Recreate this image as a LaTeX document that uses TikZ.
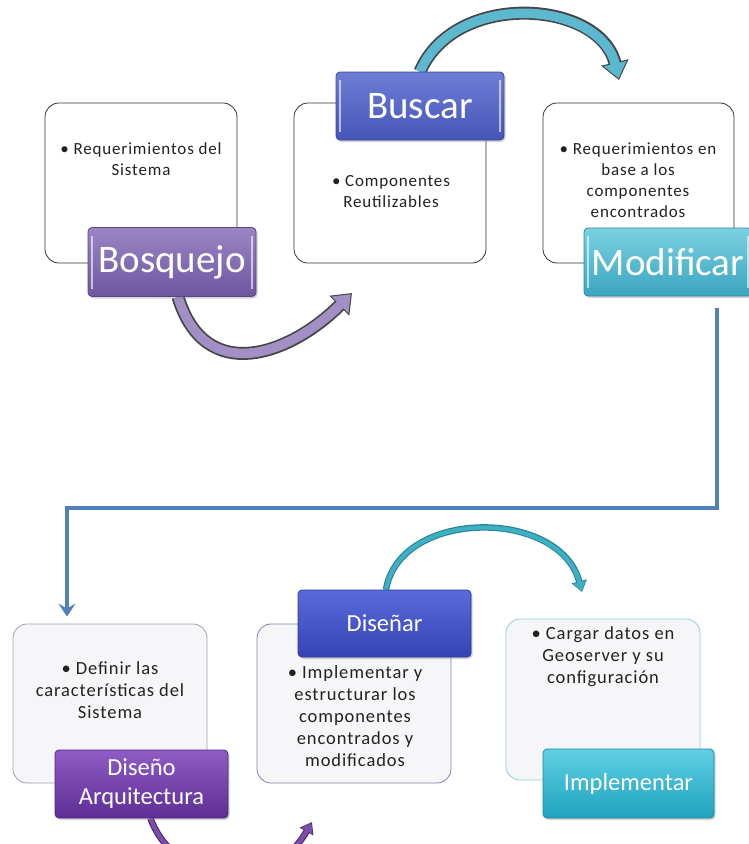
\documentclass[tikz,border=0pt]{standalone}
\usepackage{fontspec}
\setmainfont{Carlito}
\newfontfamily\spaced[LetterSpace=5]{Carlito}
\usetikzlibrary{arrows.meta,shadows,calc}
\pgfdeclarelayer{bg}
\pgfsetlayers{bg,main}
\definecolor{cardline}{HTML}{333333}
\definecolor{cardfill}{HTML}{F6F6F8}
\definecolor{bodytext}{HTML}{222222}
\definecolor{grayline}{HTML}{9AA2B0}
\definecolor{blueline}{HTML}{7A82A8}
\definecolor{tealline}{HTML}{8FCFD8}
\definecolor{bosqA}{HTML}{9C85C4}\definecolor{bosqB}{HTML}{6E56A0}\definecolor{bosqC}{HTML}{5A4585}
\definecolor{buscA}{HTML}{6F7DD6}\definecolor{buscB}{HTML}{4656B8}\definecolor{buscC}{HTML}{3A469A}
\definecolor{modA}{HTML}{7CD0E2}\definecolor{modB}{HTML}{3AA6BF}\definecolor{modC}{HTML}{2E8AA0}
\definecolor{disA}{HTML}{8E5CC4}\definecolor{disB}{HTML}{5E2E96}\definecolor{disC}{HTML}{4E2680}
\definecolor{dnrA}{HTML}{5A6ADB}\definecolor{dnrB}{HTML}{3444B4}\definecolor{dnrC}{HTML}{2C3A9A}
\definecolor{impA}{HTML}{5FD0E4}\definecolor{impB}{HTML}{1FA2BE}\definecolor{impC}{HTML}{1A8AA2}
\definecolor{flowblue}{HTML}{4F81BD}
\definecolor{lavfill}{HTML}{A28FC6}
\definecolor{tealfill}{HTML}{5CB8CE}
\definecolor{arrowline}{HTML}{454545}
\definecolor{purparc}{HTML}{7B4FA6}
\definecolor{tealarc}{HTML}{3DB0C4}
\definecolor{tealdark}{HTML}{2A8496}
\tikzset{
  card/.style={rounded corners=14pt, line width=0.8pt, inner sep=0pt},
  topcard/.style={card, draw=cardline, fill=white, minimum width=192pt, minimum height=160pt},
  botcard/.style={card, draw=#1, fill=cardfill, minimum width=194pt, minimum height=159pt},
  body/.style={align=center, text=bodytext, inner sep=0pt, font={\spaced\fontsize{17}{21}\selectfont}},
  botbody/.style={align=center, text=bodytext, inner sep=0pt, font={\spaced\fontsize{18.5}{22}\selectfont}},
  tag/.style n args={3}{rounded corners=4pt, draw=#3, line width=0.8pt, top color=#1, bottom color=#2,
     text=white, align=center, inner sep=0pt,
     drop shadow={opacity=0.35, shadow xshift=1.5pt, shadow yshift=-2pt}},
  gloss/.style={path picture={
     \draw[white, opacity=0.6, line width=1.3pt]
       ([xshift=4pt,yshift=-8pt]path picture bounding box.north west) --
       ([xshift=4pt,yshift=8pt]path picture bounding box.south west);
     \draw[white, opacity=0.6, line width=1.3pt]
       ([xshift=-4pt,yshift=-8pt]path picture bounding box.north east) --
       ([xshift=-4pt,yshift=8pt]path picture bounding box.south east);}},
  bigtag/.style={gloss, font=\fontsize{39}{42}\selectfont, minimum width=168pt, minimum height=69pt},
  smalltag/.style={font=\fontsize{24.5}{29}\selectfont, minimum width=172pt, minimum height=68pt},
  flowline/.style={draw=flowblue, line width=4pt, -{Stealth[length=13pt,width=17pt,inset=5pt]}},
  fatout/.style={draw=arrowline, line width=13pt, -{Triangle[length=18pt,width=27pt]}},
  fatin/.style={draw=#1, line width=9.5pt, shorten >=1.8pt, -{Triangle[length=15pt,width=22.5pt]}},
  thinout/.style={draw=#1, line width=6.5pt, -{Triangle[length=11pt,width=15pt]}},
  thinin/.style={draw=#1, line width=4.2pt, shorten >=1.2pt, -{Triangle[length=9pt,width=12pt]}},
}
\begin{document}
\begin{tikzpicture}[x=1pt,y=-1pt]
\useasboundingbox (0,0) rectangle (748,844);

% top row cards
\node[topcard] (b1) at (141,183) {};
\node[topcard] (b2) at (390,183) {};
\node[topcard, minimum width=191pt] (b3) at (638.5,183) {};
\node[body] (t1) at (141,159) {• Requerimientos del\\Sistema};
\node[body] (t2) at (391,191.5) {• Componentes\\Reutilizables};
\node[body] (t3) at (638,180) {• Requerimientos en\\base a los\\componentes\\encontrados};

% bottom row cards
\node[botcard=grayline] (b4) at (110,703.5) {};
\node[botcard=blueline] (b5) at (354,703.5) {};
\node[botcard=tealline, minimum height=161pt] (b6) at (603,699.5) {};
\node[botbody] (t4) at (110,690) {• Definir las\\características del\\Sistema};
\node[botbody] (t5) at (355,716.5) {• Implementar y\\estructurar los\\componentes\\encontrados y\\modificados};
\node[botbody] (t6) at (603,657) {• Cargar datos en\\Geoserver y su\\configuración};

% labels
\node[tag={bosqA}{bosqB}{bosqC}, bigtag] (bosq) at (172,262) {Bosquejo};
\node[tag={buscA}{buscB}{buscC}, bigtag, minimum height=68pt] (busc) at (420,106) {Buscar};
\node[tag={modA}{modB}{modC}, bigtag, minimum height=68pt] (modi) at (668,262) {Modificar};
\node[tag={disA}{disB}{disC}, smalltag, minimum width=173pt] (diseno) at (141.5,784) {Diseño\\Arquitectura};
\node[tag={dnrA}{dnrB}{dnrC}, smalltag, minimum width=173pt, minimum height=67pt] (disenar) at (384.5,623.5) {Diseñar};
\node[tag={impA}{impB}{impC}, smalltag, minimum width=171pt, minimum height=69pt] (impl) at (628.5,783.5) {Implementar};

% free ends
\coordinate (e1) at (352,293);
\coordinate (e2) at (619,80);
\coordinate (e3) at (312,822);
\coordinate (e4) at (582,592);
\coordinate (turn) at (67,508);

\begin{pgfonlayer}{bg}
  % Bosquejo -> Buscar
  \draw[fatout] ([xshift=6pt]bosq.south) .. controls (205,386) and (290,355) .. (e1);
  \draw[fatin=lavfill] ([xshift=6pt]bosq.south) .. controls (205,386) and (290,355) .. (e1);
  % Buscar -> Modificar
  \draw[fatout] (busc.north) .. controls (455,-10) and (600,0) .. (e2);
  \draw[fatin=tealfill] (busc.north) .. controls (455,-10) and (600,0) .. (e2);
  % Diseño Arquitectura -> Diseñar
  \draw[thinout=disC] ([xshift=9pt]diseno.south) .. controls (175,885) and (270,895) .. (e3);
  \draw[thinin=purparc] ([xshift=9pt]diseno.south) .. controls (175,885) and (270,895) .. (e3);
  % Diseñar -> Implementar
  \draw[thinout=tealdark] ([xshift=1.5pt]disenar.north) .. controls (400,508) and (560,508) .. (e4);
  \draw[thinin=tealarc] ([xshift=1.5pt]disenar.north) .. controls (400,508) and (560,508) .. (e4);
\end{pgfonlayer}

% Modificar -> Definir
\draw[flowline] ([xshift=-35pt,yshift=-12pt]modi.south east) |- (turn) -- ([yshift=7pt]b4.north -| turn);
\end{tikzpicture}
\end{document}
